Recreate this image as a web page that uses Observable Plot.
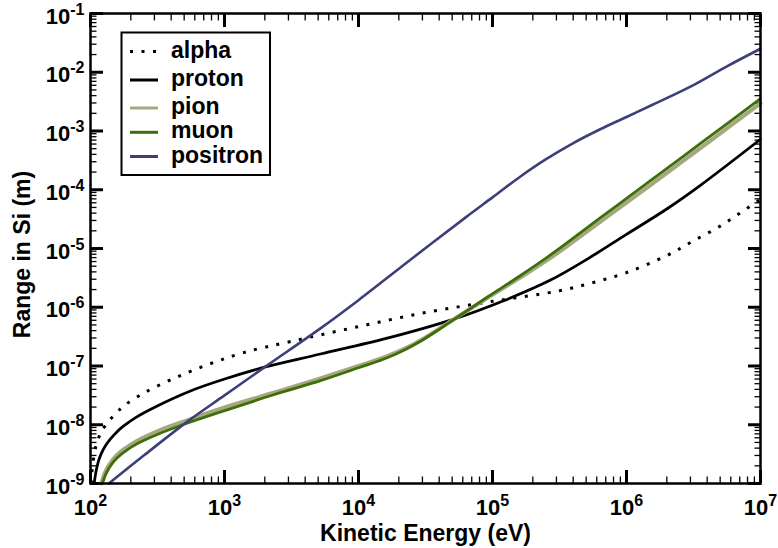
<!DOCTYPE html>
<html>
<head>
<meta charset="utf-8">
<script src="https://cdn.jsdelivr.net/npm/d3@7"></script>
<script src="https://cdn.jsdelivr.net/npm/@observablehq/plot@0.6"></script>
<style>
  body { margin: 0; background: #fff; }
  #wrap { position: relative; width: 778px; height: 548px; }
  #wrap svg { font-family: 'Liberation Sans', Arial, Helvetica, sans-serif; font-weight: bold; }
</style>
</head>
<body>
<div id="wrap"></div>
<script>
// ---- data (energy in eV, range in metres) ----
const seriesNames  = ["alpha", "proton", "pion", "muon", "positron"];
const seriesColors = ["#000000", "#000000", "#a5a77d", "#3d6e0b", "#3c3f78"];

const alphaE = [101.4, 102, 103, 105, 108, 112, 117, 122, 133, 154, 177, 250, 430, 764, 1390, 3160, 1e4, 31600, 1e5, 316000, 562000, 1e6, 2e6, 3.16e6, 5.0e6, 7.1e6, 1e7];
const alphaR = [1.0e-9, 1.32e-9, 1.78e-9, 2.51e-9, 3.72e-9, 5.01e-9, 6.61e-9, 7.94e-9, 1.07e-8, 1.55e-8, 2.09e-8, 3.47e-8, 6.31e-8, 1.07e-7, 1.69e-7, 2.63e-7, 4.68e-7, 8.13e-7, 1.26e-6, 1.91e-6, 2.63e-6, 3.89e-6, 7.59e-6, 1.35e-5, 2.4e-5, 4.07e-5, 6.9e-5];

const protonE = [106.5, 108, 111, 115, 121, 130, 141, 158, 177, 220, 315, 557, 989, 2020, 5200, 16400, 51400, 121000, 271000, 524000, 1e6, 2.01e6, 3.56e6, 1e7];
const protonR = [1.0e-9, 1.26e-9, 1.78e-9, 2.45e-9, 3.31e-9, 4.47e-9, 5.75e-9, 7.62e-9, 9.53e-9, 1.35e-8, 2.09e-8, 3.76e-8, 5.94e-8, 9.64e-8, 1.6e-7, 2.97e-7, 6.27e-7, 1.29e-6, 2.9e-6, 6.87e-6, 1.74e-5, 4.75e-5, 1.19e-4, 7.24e-4];

const pionE = [120.5, 123, 127, 133, 142, 155, 177, 220, 315, 525, 989, 2330, 5200, 1e4, 16400, 22400, 29000, 39800, 51400, 91200, 162000, 271000, 640000, 1.51e6, 3.98e6, 1e7];
const pionR = [1.0e-9, 1.17e-9, 1.45e-9, 1.82e-9, 2.29e-9, 2.95e-9, 3.8e-9, 5.25e-9, 7.76e-9, 1.19e-8, 1.95e-8, 3.51e-8, 6.17e-8, 1.0e-7, 1.48e-7, 2.0e-7, 2.72e-7, 4.27e-7, 6.24e-7, 1.43e-6, 3.24e-6, 6.92e-6, 2.88e-5, 1.2e-4, 6.17e-4, 2.95e-3];

const muonE = [122.5, 125, 129, 135, 144, 157, 177, 220, 315, 525, 989, 2330, 5200, 1e4, 16400, 22400, 29000, 39800, 51400, 91200, 162000, 271000, 640000, 1.51e6, 3.98e6, 1e7];
const muonR = [1.0e-9, 1.12e-9, 1.38e-9, 1.7e-9, 2.14e-9, 2.69e-9, 3.39e-9, 4.68e-9, 6.84e-9, 1.06e-8, 1.72e-8, 3.24e-8, 5.62e-8, 9.33e-8, 1.38e-7, 1.91e-7, 2.63e-7, 4.17e-7, 6.17e-7, 1.48e-6, 3.47e-6, 7.76e-6, 3.35e-5, 1.43e-4, 7.41e-4, 3.55e-3];

const positronE = [137, 251, 525, 1000, 2020, 5200, 1e4, 25100, 63100, 1e5, 158000, 251000, 398000, 631000, 1e6, 1.58e6, 3.16e6, 5.62e6, 1e7];
const positronR = [1.0e-9, 3.02e-9, 1.12e-8, 3.16e-8, 9.77e-8, 4.37e-7, 1.32e-6, 6.76e-6, 3.39e-5, 7.41e-5, 1.62e-4, 3.31e-4, 6.17e-4, 1.06e-3, 1.73e-3, 2.82e-3, 6.03e-3, 1.26e-2, 2.51e-2];

const xMajor = [1e2, 1e3, 1e4, 1e5, 1e6, 1e7];
const yMajor = [1e-9, 1e-8, 1e-7, 1e-6, 1e-5, 1e-4, 1e-3, 1e-2, 1e-1];
const minorMult = [2, 3, 4, 5, 6, 7, 8, 9];

const xTitle = "Kinetic Energy (eV)";
const yTitle = "Range in Si (m)";

// ---- build tables ----
const seriesE = [alphaE, protonE, pionE, muonE, positronE];
const seriesR = [alphaR, protonR, pionR, muonR, positronR];
const tables = seriesNames.map((name, i) => seriesE[i].map((e, j) => ({series: name, E: e, R: seriesR[i][j]})));

const minorOf = (major) => major.slice(0, -1).flatMap(m => minorMult.map(k => m * k));
const xMinor = minorOf(xMajor);
const yMinor = minorOf(yMajor);
const expFmt = d => "10^" + Math.round(Math.log10(d));
const blank = () => "";

const W = 778, H = 548, mL = 90, mR = 18, mT = 13, mB = 65;
const minorLen = 6.5, majorLen = 13;
const xDom = [1e2, 1e7], yDom = [1e-9, 1e-1];

const lineStyles = {
  alpha:    {strokeWidth: 3, strokeDasharray: "3 8.5", strokeLinecap: "butt"},
  proton:   {strokeWidth: 2.8},
  pion:     {strokeWidth: 4},
  muon:     {strokeWidth: 2.8},
  positron: {strokeWidth: 2.6}
};

const tickAxes = (xs, ys, len, sw) => [
  Plot.axisX(xs, {anchor: "bottom", tickSize: -len, strokeWidth: sw, tickFormat: blank, label: null}),
  Plot.axisX(xs, {anchor: "top", tickSize: -len, strokeWidth: sw, tickFormat: blank, label: null}),
  Plot.axisY(ys, {anchor: "left", tickSize: -len, strokeWidth: sw, tickFormat: blank, label: null}),
  Plot.axisY(ys, {anchor: "right", tickSize: -len, strokeWidth: sw, tickFormat: blank, label: null})
];

const chart = Plot.plot({
  width: W,
  height: H,
  marginLeft: mL,
  marginRight: mR,
  marginTop: mT,
  marginBottom: mB,
  style: {background: "#fff", color: "#000"},
  x: {type: "log", domain: xDom},
  y: {type: "log", domain: yDom},
  marks: [
    ...tickAxes(xMinor, yMinor, minorLen, 1.3),
    ...tickAxes(xMajor, yMajor, majorLen, 3),
    ...tables.map((t, i) => Plot.line(t, {
      x: "E", y: "R", stroke: seriesColors[i], curve: "catmull-rom",
      strokeLinejoin: "round", ...lineStyles[seriesNames[i]]
    })),
    Plot.axisX(xMajor, {anchor: "bottom", tickSize: 0, tickPadding: 16, tickFormat: expFmt,
      label: xTitle, labelAnchor: "center", labelOffset: 57, labelArrow: "none"}),
    Plot.axisY(yMajor, {anchor: "left", tickSize: 0, tickPadding: 6, tickFormat: expFmt, dy: 3,
      label: yTitle, labelAnchor: "center", labelOffset: 77, labelArrow: "none"}),
    Plot.frame({stroke: "#000", strokeWidth: 2.5})
  ]
});

const wrap = document.getElementById("wrap");
wrap.appendChild(chart);
const svg = d3.select(chart);

// text sizes
svg.selectAll('g[aria-label="x-axis tick label"] text, g[aria-label="y-axis tick label"] text')
  .style("font-size", "22px").style("font-weight", "bold").attr("fill", "#000");
svg.selectAll('g[aria-label="x-axis label"] text, g[aria-label="y-axis label"] text')
  .style("font-size", "23px").style("font-weight", "bold").attr("fill", "#000");

// superscript exponents on tick labels
svg.selectAll('g[aria-label="x-axis tick label"] text, g[aria-label="y-axis tick label"] text')
  .each(function() {
    const s = this.textContent;
    const idx = s.indexOf("^");
    if (idx < 0) return;
    const base = s.slice(0, idx), ex = s.slice(idx + 1);
    const t = d3.select(this);
    t.text(base);
    t.append("tspan").attr("dy", -9).style("font-size", "16px").text(ex);
  });
const yl = svg.select('g[aria-label="y-axis label"]');
yl.attr("transform", ((yl.attr("transform") || "") + " translate(0,6)").trim());

// legend
const lg = svg.append("g").attr("aria-label", "legend");
lg.append("rect").attr("x", 121.5).attr("y", 32.5).attr("width", 148.5).attr("height", 142.5)
  .attr("fill", "#fff").attr("stroke", "#000").attr("stroke-width", 2);
const rowY = [51.5, 80, 108, 132.3, 156.5];
seriesNames.forEach((name, i) => {
  const st = lineStyles[name];
  lg.append("line").attr("x1", 130).attr("x2", 158).attr("y1", rowY[i]).attr("y2", rowY[i])
    .attr("stroke", seriesColors[i]).attr("stroke-width", 3)
    .attr("stroke-linecap", "butt")
    .attr("stroke-dasharray", st.strokeDasharray || null);
  lg.append("text").attr("x", 171).attr("y", rowY[i] + 6)
    .attr("text-anchor", "start")
    .style("font-size", "23px").style("font-weight", "bold").attr("fill", "#000").text(name);
});
</script>
</body>
</html>
